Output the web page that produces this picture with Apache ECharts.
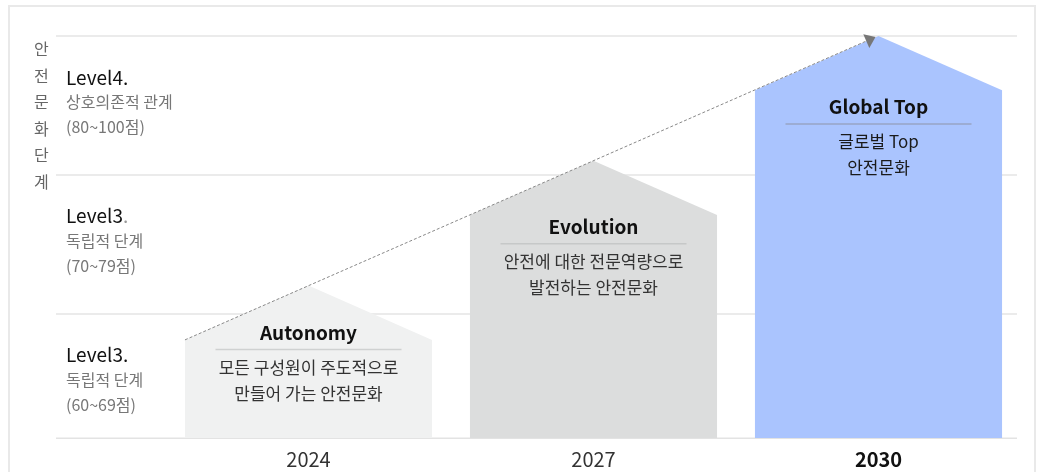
<!DOCTYPE html>
<html>
<head>
<meta charset="utf-8">
<script src="https://cdn.jsdelivr.net/npm/echarts@6/dist/echarts.min.js"></script>
<style>
  html, body { margin: 0; padding: 0; background: #fff; }
  #frame { position: absolute; left: 8px; top: 5px; width: 1028px; height: 520px; border: 2px solid #e9e9e9; box-sizing: border-box; }
  #main { position: absolute; left: 0; top: 0; width: 1039px; height: 472px; }
</style>
</head>
<body>
<div id="frame"></div>
<div id="main"></div>
<script>
// 데이터
var years = ['2024', '2027', '2030'];
var peakLevels = [12, 21, 30];
var baseLevel = 1;
var houseTitles = ['Autonomy', 'Evolution', 'Global Top'];
var houseLines = [
  ['모든 구성원이 주도적으로', '만들어 가는 안전문화'],
  ['안전에 대한 전문역량으로', '발전하는 안전문화'],
  ['글로벌 Top', '안전문화']
];
var levelMids = [5, 15, 25];
var levelNames = ['Level3', 'Level3', 'Level4'];
var levelDescs = ['독립적 단계', '독립적 단계', '상호의존적 관계'];
var levelRanges = ['(60~69점)', '(70~79점)', '(80~100점)'];
var yTitle = '안전문화단계';

// 스타일
var FONT = "'Noto Sans CJK KR', 'Noto Sans', sans-serif";
var houseColors = ['#f0f1f1', '#dcdddd', '#aac4fe'];
var ruleColors = ['#cfd1d1', '#c6c8c8', '#97a5c4'];
var descColors = ['#333', '#333', '#1a1a1a'];
var titleDy = [47, 66, 71];
var dotMuted = [false, true, false];

var chart = echarts.init(document.getElementById('main'), null, { renderer: 'canvas' });

function houseHalf(api) {
  return api.size([1, 0])[0] * 0.867 / 2;
}

// 레벨 라벨 + 기준선
function renderLevel(params, api) {
  var i = params.dataIndex;
  var p = api.coord([0, api.value(1)]);
  var dot = dotMuted[i] ? '{dot|.}' : '{lv|.}';
  var children = [{
    type: 'text',
    x: p[0] + 10,
    y: p[1] - 3,
    style: {
      text: '{lv|' + levelNames[i] + '}' + dot + '\n{sub|' + levelDescs[i] + '}\n{sub|' + levelRanges[i] + '}',
      verticalAlign: 'middle',
      align: 'left',
      rich: {
        lv: { fontSize: 19, fontFamily: FONT, fill: '#111', lineHeight: 25 },
        dot: { fontSize: 19, fontFamily: FONT, fill: '#999', lineHeight: 25 },
        sub: { fontSize: 16, fontFamily: FONT, fill: '#777', lineHeight: 25 }
      }
    }
  }];
  if (i === 0) {
    var a = api.coord([0, baseLevel]);
    var b = api.coord([1, baseLevel]);
    children.push({
      type: 'line',
      shape: { x1: a[0], y1: a[1], x2: b[0], y2: b[1] },
      style: { stroke: '#e3e3e3', lineWidth: 1.5 }
    });
  }
  return { type: 'group', children: children };
}

// 집 모양 막대
function renderHouse(params, api) {
  var i = params.dataIndex;
  var peak = api.coord([api.value(0), api.value(1)]);
  var foot = api.coord([api.value(0), baseLevel]);
  var half = houseHalf(api);
  var roof = half * 0.44;
  var cx = peak[0], py = peak[1];
  var ty = py + titleDy[i];
  return {
    type: 'group',
    children: [
      {
        type: 'polygon',
        shape: { points: [[cx - half, foot[1]], [cx - half, py + roof], [cx, py], [cx + half, py + roof], [cx + half, foot[1]]] },
        style: { fill: houseColors[i] }
      },
      {
        type: 'text',
        x: cx, y: ty,
        style: { text: houseTitles[i], align: 'center', verticalAlign: 'middle', font: 'bold 19px ' + FONT, fill: '#111' }
      },
      {
        type: 'line',
        shape: { x1: cx - 93, y1: ty + 17, x2: cx + 93, y2: ty + 17 },
        style: { stroke: ruleColors[i], lineWidth: 1.5 }
      },
      {
        type: 'text',
        x: cx, y: ty + 48,
        style: { text: houseLines[i].join('\n'), align: 'center', verticalAlign: 'middle', font: '17px ' + FONT, lineHeight: 26, fill: descColors[i] }
      }
    ]
  };
}

// 점선 화살표
function renderArrow(params, api) {
  var half = houseHalf(api);
  var roof = half * 0.44;
  var first = api.coord([api.value(0), api.value(1)]);
  var last = api.coord([api.value(2), api.value(3)]);
  var sx = first[0] - half, sy = first[1] + roof;
  var ex = last[0] - 3, ey = last[1] + 1;
  var ang = Math.atan2(ey - sy, ex - sx);
  var c = Math.cos(ang), s = Math.sin(ang);
  var len = 10, w = 7.5;
  var bx = ex - len * c, by = ey - len * s;
  return {
    type: 'group',
    children: [
      {
        type: 'line',
        shape: { x1: sx, y1: sy, x2: bx, y2: by },
        style: { stroke: '#888', lineWidth: 1, lineDash: [3, 2] }
      },
      {
        type: 'polygon',
        shape: { points: [[ex, ey], [bx - w * s, by + w * c], [bx + w * s, by - w * c]] },
        style: { fill: '#777' }
      }
    ]
  };
}

var option = {
  animation: false,
  title: {
    text: yTitle.split('').join('\n'),
    left: 29,
    top: 31,
    textStyle: { fontSize: 16, fontWeight: 'normal', color: '#666', lineHeight: 26.5, fontFamily: FONT }
  },
  grid: [
    { left: 56, right: 22, top: 36, bottom: 20 },
    { left: 166, right: 18, top: 36, bottom: 34 }
  ],
  xAxis: [
    { gridIndex: 0, type: 'value', min: 0, max: 1, show: false },
    {
      gridIndex: 1,
      type: 'category',
      data: years.map(function (y, i) {
        return i === years.length - 1 ? { value: y, textStyle: { color: '#111', fontWeight: 'bold' } } : y;
      }),
      axisLine: { show: false },
      axisTick: { show: false },
      axisLabel: { margin: 11, fontSize: 20, color: '#333', fontFamily: FONT }
    }
  ],
  yAxis: [
    {
      gridIndex: 0,
      type: 'value',
      min: 0,
      max: 30,
      interval: 10,
      axisLine: { show: false },
      axisTick: { show: false },
      axisLabel: { show: false },
      splitLine: { show: true, showMinLine: false, lineStyle: { color: '#e5e5e5', width: 1.5 } }
    },
    { gridIndex: 1, type: 'value', min: baseLevel, max: 30, show: false }
  ],
  series: [
    {
      type: 'custom',
      xAxisIndex: 0,
      yAxisIndex: 0,
      renderItem: renderLevel,
      data: levelMids.map(function (m) { return [0, m]; }),
      silent: true
    },
    {
      type: 'custom',
      xAxisIndex: 1,
      yAxisIndex: 1,
      renderItem: renderHouse,
      data: peakLevels.map(function (v, i) { return [i, v]; }),
      z: 3,
      silent: true
    },
    {
      type: 'custom',
      xAxisIndex: 1,
      yAxisIndex: 1,
      renderItem: renderArrow,
      data: [[0, peakLevels[0], years.length - 1, peakLevels[peakLevels.length - 1]]],
      z: 4,
      silent: true
    }
  ]
};

chart.setOption(option);
</script>
</body>
</html>
